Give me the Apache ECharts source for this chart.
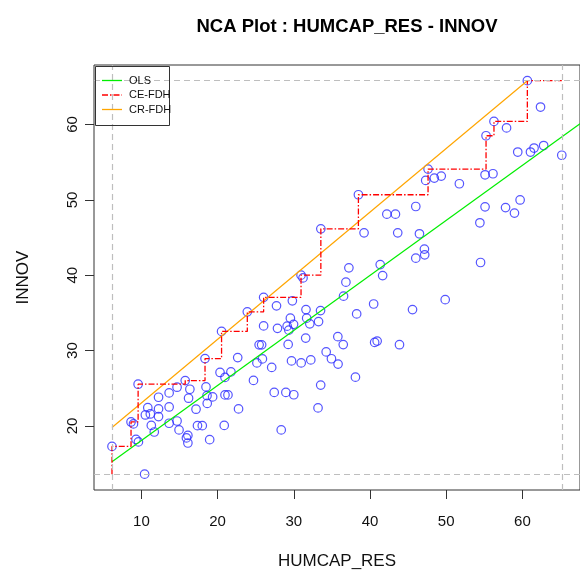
<!DOCTYPE html>
<html>
<head>
<meta charset="utf-8">
<script src="https://cdn.jsdelivr.net/npm/echarts@6/dist/echarts.min.js"></script>
<style>
html,body{margin:0;padding:0;background:#fff;}
#chart{width:580px;height:576px;}
</style>
</head>
<body>
<div id="chart"></div>
<script>
// ---- data ----
const humcap = [6.14,10.42,8.64,8.96,9.29,9.61,9.57,10.84,10.52,11.17,11.30,11.69,12.25,12.25,12.25,13.64,13.64,13.64,14.68,14.94,
  14.68,15.75,16.36,16.19,16.10,15.91,16.10,17.17,17.36,17.99,18.35,18.48,18.61,18.64,19.35,18.96,20.52,20.32,20.97,21.75,
  20.97,21.36,20.87,22.64,22.75,23.90,24.71,25.45,25.78,25.16,25.88,26.04,26.04,27.73,27.86,27.10,27.43,28.35,29.13,29.55,
  29.35,29.97,29.81,29.26,29.70,28.96,30.00,30.95,31.21,31.60,31.69,32.10,31.56,30.97,32.23,33.18,33.53,33.51,33.25,34.25,
  34.94,35.78,36.49,35.81,36.53,33.55,38.25,38.09,37.23,36.84,38.48,39.22,41.34,41.66,40.48,40.61,40.94,43.87,42.21,43.34,
  46.01,43.64,46.49,45.58,46.01,47.14,47.18,47.31,48.44,49.35,47.62,49.87,51.73,54.51,54.42,55.10,55.10,56.14,55.23,56.27,
  57.92,57.79,58.96,59.70,59.39,61.06,61.53,62.79,62.38,60.65,65.17];
const innov = [17.28,13.60,20.53,20.27,18.21,17.88,25.54,22.43,21.46,21.59,20.07,19.20,23.81,22.26,21.24,24.38,22.52,20.36,20.66,19.47,
  25.14,26.02,24.87,23.68,18.74,18.41,17.74,22.22,20.04,20.04,28.94,25.18,24.02,22.99,23.85,18.18,32.55,27.10,26.44,27.17,
  24.12,24.12,20.07,29.07,22.26,35.14,26.04,30.76,30.76,28.37,28.90,33.28,37.07,35.94,32.95,27.77,24.45,19.47,33.24,34.30,
  32.71,33.48,36.60,30.82,28.63,24.45,24.14,40.01,39.65,35.44,34.30,33.55,31.66,28.37,28.76,22.39,25.42,35.31,33.85,29.83,
  28.92,31.85,30.80,28.21,37.22,46.16,34.87,26.47,40.98,39.08,50.68,45.63,41.41,39.95,36.18,31.09,31.26,30.78,48.11,48.11,
  49.12,45.63,45.50,35.44,42.27,43.47,42.71,52.58,52.89,53.16,54.09,36.76,52.14,41.69,46.96,49.08,53.33,53.47,58.51,60.41,
  59.55,48.98,48.25,49.99,56.35,56.35,56.88,57.21,62.32,65.82,55.92];

// CE-FDH peers (step frontier), start at scope bottom-left, end at scope right
const ceX = [6.14,6.14,8.64,9.57,15.75,18.35,20.52,23.90,26.04,30.95,33.55,38.48,47.62,55.23,56.27,60.65,65.17];
const ceY = [13.60,17.28,20.53,25.54,26.02,28.94,32.55,35.14,37.07,40.01,46.16,50.68,54.09,58.51,60.41,65.82,65.82];
// CR-FDH line end points
const crX = [6.14,60.65];
const crY = [19.80,65.82];
// OLS line end points
const olsX = [6.14,67.56];
const olsY = [15.26,60.10];
// scope (dashed lines)
const scopeX = [6.14,65.17];
const scopeY = [13.60,65.82];
// tick labels
const xTicks = [10,20,30,40,50,60];
const yTicks = [20,30,40,50,60];
// legend entries
const legendNames = ['OLS','CE-FDH','CR-FDH'];

const FONT = 'Liberation Sans, Arial, sans-serif';
const colOLS = '#00ee00', colCE = '#ff0000', colCR = '#ffa500';
const dashCE = [6,2,1.5,2];
const zip = (a,b) => a.map((v,i)=>[v,b[i]]);

// legend drawn as graphic elements (R-style box legend, transparent background)
const legendStyles = [
  {stroke:colOLS, lineWidth:1.3},
  {stroke:colCE, lineWidth:1.3, lineDash:dashCE},
  {stroke:colCR, lineWidth:1.3}
];
const legendRows = [80.5, 95, 109.5];
const legendGraphic = [{
  type:'rect', left:93, top:64, shape:{width:74, height:59},
  style:{fill:'none', stroke:'#333', lineWidth:1}, silent:true, z:100
}];
legendNames.forEach((n,i)=>{
  legendGraphic.push({type:'line', shape:{x1:102,y1:legendRows[i],x2:122,y2:legendRows[i]}, style:legendStyles[i], silent:true, z:101});
  legendGraphic.push({type:'text', x:129, y:legendRows[i], style:{text:n, fontFamily:FONT, fontSize:11, fill:'#111', verticalAlign:'middle', align:'left'}, silent:true, z:101});
});

const chart = echarts.init(document.getElementById('chart'), null, {renderer:'canvas'});
chart.setOption({
  animation:false,
  backgroundColor:'#fff',
  title:{
    text:'NCA Plot : HUMCAP_RES - INNOV',
    left:342, top:12, textAlign:'center',
    textStyle:{fontFamily:FONT,fontSize:18.5,fontWeight:'bold',color:'#000'}
  },
  grid:{left:94, top:65, width:491, height:425, show:true, borderColor:'#333', borderWidth:1, containLabel:false},
  xAxis:{
    type:'value', min:3.78, max:67.56,
    name:'HUMCAP_RES', nameLocation:'middle', nameGap:63,
    nameTextStyle:{fontFamily:FONT,fontSize:17,color:'#111'},
    axisLine:{show:false},
    axisTick:{show:true, length:9, customValues:xTicks, lineStyle:{color:'#333'}},
    axisLabel:{customValues:xTicks, margin:24, fontFamily:FONT, fontSize:15, color:'#111'},
    splitLine:{show:false}
  },
  yAxis:{
    type:'value', min:11.5, max:67.9,
    name:'INNOV', nameLocation:'middle', nameGap:62, nameRotate:90,
    nameTextStyle:{fontFamily:FONT,fontSize:17,color:'#111'},
    axisLine:{show:false},
    axisTick:{show:true, length:9, customValues:yTicks, lineStyle:{color:'#333'}},
    axisLabel:{customValues:yTicks, rotate:90, margin:14, fontFamily:FONT, fontSize:15, color:'#111'},
    splitLine:{show:false}
  },
  graphic:legendGraphic,
  series:[
    {
      type:'scatter', name:'points', data:zip(humcap,innov),
      symbol:'circle', symbolSize:8.5,
      itemStyle:{color:'rgba(0,0,0,0)', borderColor:'#2a2aff', borderWidth:1.2},
      z:2,
      markLine:{
        silent:true, symbol:'none', label:{show:false},
        lineStyle:{color:'#bebebe', type:[6,4], width:1.2},
        data:[{xAxis:scopeX[0]},{xAxis:scopeX[1]},{yAxis:scopeY[0]},{yAxis:scopeY[1]}]
      }
    },
    {
      type:'line', name:legendNames[0], data:zip(olsX,olsY), symbol:'none', showSymbol:false,
      lineStyle:{color:colOLS, width:1.2}, itemStyle:{color:colOLS}, z:3
    },
    {
      type:'line', name:legendNames[1], data:zip(ceX,ceY), step:'end', symbol:'none', showSymbol:false,
      lineStyle:{color:colCE, width:1.3, type:dashCE}, itemStyle:{color:colCE}, z:4
    },
    {
      type:'line', name:legendNames[2], data:zip(crX,crY), symbol:'none', showSymbol:false,
      lineStyle:{color:colCR, width:1.2}, itemStyle:{color:colCR}, z:3
    }
  ]
});
</script>
</body>
</html>
